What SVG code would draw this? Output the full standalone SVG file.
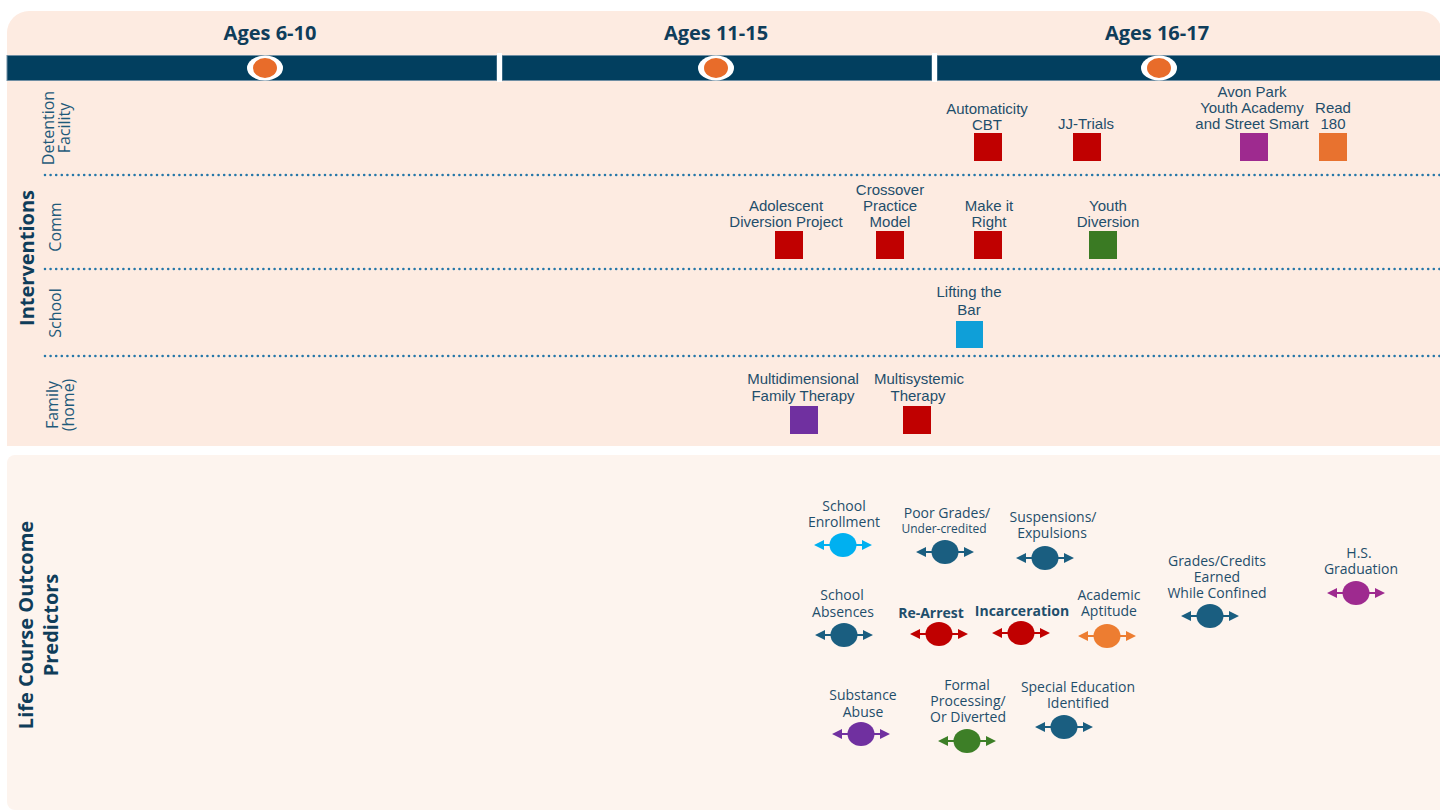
<svg xmlns="http://www.w3.org/2000/svg" width="1440" height="811" viewBox="0 0 1440 811">
  <style>
    .hdr { font-family: "Open Sans", "Liberation Sans", sans-serif; font-weight: 700; font-size: 20px; fill: #0f3d5a; text-anchor: middle; }
    .side { font-family: "Open Sans", "Liberation Sans", sans-serif; font-size: 16px; fill: #1f5a7a; text-anchor: middle; }
    .title { font-family: "Open Sans", "Liberation Sans", sans-serif; font-weight: 700; font-size: 20px; fill: #0f3d5a; text-anchor: middle; }
    .lbl { font-family: "Liberation Sans", Arial, sans-serif; font-size: 15px; fill: #1f4e6b; text-anchor: middle; }
    .pl { font-family: "Open Sans", "Liberation Sans", sans-serif; font-size: 14px; fill: #1f4e6b; text-anchor: middle; }
    .pl-sm { font-size: 12px; }
    .pl-b { font-weight: 700; }
    .sep { stroke: #2577a8; stroke-width: 2.6; stroke-linecap: round; stroke-dasharray: 0 5.6; fill: none; }
    .bar { fill: #023f5f; stroke: #6f8ea3; stroke-width: 1; }
  </style>
  <defs>
    <!-- double-headed arrow with a disc in the middle; colour comes from `color` -->
    <g id="predGlyph">
      <path d="M-20,0H20" stroke="currentColor" stroke-width="2"/>
      <path d="M-29,0L-19,-5L-19,5Z M29,0L19,-5L19,5Z" fill="currentColor"/>
      <ellipse rx="13.5" ry="12" fill="currentColor"/>
    </g>
  </defs>

  <!-- background panels -->
  <rect width="1440" height="811" fill="#ffffff"/>
  <path d="M7,446 V33 A22,22 0 0 1 29,11 H1420 A22,22 0 0 1 1442,33 V446 Z" fill="#fdebe1"/>
  <rect x="7" y="455" width="1445" height="355" rx="8" fill="#fdf4ee"/>

  <!-- timeline -->
  <g id="timeline">
    <rect class="bar" x="7" y="55.5" width="490" height="25"/>
    <rect class="bar" x="502" y="55.5" width="430" height="25"/>
    <rect class="bar" x="937" y="55.5" width="505" height="25"/>
    <rect x="497" y="53" width="5" height="29" fill="#ffffff"/>
    <rect x="932" y="53" width="5" height="29" fill="#ffffff"/>
    <ellipse cx="265" cy="68" rx="18" ry="12.5" fill="#ffffff"/>
    <ellipse cx="265" cy="68" rx="12" ry="10" fill="#e86c2a"/>
    <ellipse cx="716" cy="68" rx="18" ry="12.5" fill="#ffffff"/>
    <ellipse cx="716" cy="68" rx="12" ry="10" fill="#e86c2a"/>
    <ellipse cx="1159" cy="68" rx="18" ry="12.5" fill="#ffffff"/>
    <ellipse cx="1159" cy="68" rx="12" ry="10" fill="#e86c2a"/>
    <text class="hdr" x="270" y="40">Ages 6-10</text>
    <text class="hdr" x="716" y="40">Ages 11-15</text>
    <text class="hdr" x="1157" y="40">Ages 16-17</text>
  </g>

  <!-- row separators -->
  <g id="separators">
    <path class="sep" d="M45,175H1440"/>
    <path class="sep" d="M45,269H1440"/>
    <path class="sep" d="M45,356H1440"/>
  </g>

  <!-- row headings -->
  <g id="row-labels">
    <text class="title" transform="translate(34,258) rotate(-90)">Interventions</text>
    <text class="side" transform="translate(54,128) rotate(-90)">Detention</text>
    <text class="side" transform="translate(70,128) rotate(-90)">Facility</text>
    <text class="side" transform="translate(61,227) rotate(-90)">Comm</text>
    <text class="side" transform="translate(61,313) rotate(-90)">School</text>
    <text class="side" transform="translate(58,405) rotate(-90)">Family</text>
    <text class="side" transform="translate(74,405) rotate(-90)">(home)</text>
    <text class="title" transform="translate(33,625) rotate(-90)">Life Course Outcome</text>
    <text class="title" transform="translate(58,625) rotate(-90)">Predictors</text>
  </g>

  <!-- interventions: detention facility -->
  <g id="automaticity-cbt">
    <text class="lbl" x="987" y="114">Automaticity</text>
    <text class="lbl" x="987" y="130">CBT</text>
    <rect x="974" y="133" width="28" height="28" fill="#c00000"/>
  </g>
  <g id="jj-trials">
    <text class="lbl" x="1086" y="129">JJ-Trials</text>
    <rect x="1073" y="133" width="28" height="28" fill="#c00000"/>
  </g>
  <g id="avon-park">
    <text class="lbl" x="1252" y="97">Avon Park</text>
    <text class="lbl" x="1252" y="113">Youth Academy</text>
    <text class="lbl" x="1252" y="129">and Street Smart</text>
    <rect x="1240" y="133" width="28" height="28" fill="#9e2a8f"/>
  </g>
  <g id="read-180">
    <text class="lbl" x="1333" y="113">Read</text>
    <text class="lbl" x="1333" y="129">180</text>
    <rect x="1319" y="133" width="28" height="28" fill="#e8722f"/>
  </g>

  <!-- interventions: community -->
  <g id="adolescent-diversion">
    <text class="lbl" x="786" y="211">Adolescent</text>
    <text class="lbl" x="786" y="227">Diversion Project</text>
    <rect x="775" y="231" width="28" height="28" fill="#c00000"/>
  </g>
  <g id="crossover-practice">
    <text class="lbl" x="890" y="195">Crossover</text>
    <text class="lbl" x="890" y="211">Practice</text>
    <text class="lbl" x="890" y="227">Model</text>
    <rect x="876" y="231" width="28" height="28" fill="#c00000"/>
  </g>
  <g id="make-it-right">
    <text class="lbl" x="989" y="211">Make it</text>
    <text class="lbl" x="989" y="227">Right</text>
    <rect x="974" y="231" width="28" height="28" fill="#c00000"/>
  </g>
  <g id="youth-diversion">
    <text class="lbl" x="1108" y="211">Youth</text>
    <text class="lbl" x="1108" y="227">Diversion</text>
    <rect x="1089" y="231" width="28" height="28" fill="#3a7a23"/>
  </g>

  <!-- interventions: school -->
  <g id="lifting-the-bar">
    <text class="lbl" x="969" y="297">Lifting the</text>
    <text class="lbl" x="969" y="315">Bar</text>
    <rect x="956" y="321" width="27" height="27" fill="#0f9fd8"/>
  </g>

  <!-- interventions: family -->
  <g id="multidimensional-family">
    <text class="lbl" x="803" y="384">Multidimensional</text>
    <text class="lbl" x="803" y="401">Family Therapy</text>
    <rect x="790" y="406" width="28" height="28" fill="#7030a0"/>
  </g>
  <g id="multisystemic">
    <text class="lbl" x="919" y="384">Multisystemic</text>
    <text class="lbl" x="918" y="401">Therapy</text>
    <rect x="903" y="406" width="28" height="28" fill="#c00000"/>
  </g>

  <!-- life course outcome predictors -->
  <g id="connectors">
    <use href="#predGlyph" x="843" y="545" style="color:#00b0f0"/>
    <use href="#predGlyph" x="945" y="552" style="color:#1a5e80"/>
    <use href="#predGlyph" x="1045" y="558" style="color:#1a5e80"/>
    <use href="#predGlyph" x="844" y="635" style="color:#1a5e80"/>
    <use href="#predGlyph" x="939" y="634" style="color:#c00000"/>
    <use href="#predGlyph" x="1021" y="633" style="color:#c00000"/>
    <use href="#predGlyph" x="1107" y="636" style="color:#ed7d31"/>
    <use href="#predGlyph" x="1210" y="616" style="color:#1a5e80"/>
    <use href="#predGlyph" x="1356" y="593" style="color:#9e2a8f"/>
    <use href="#predGlyph" x="861" y="734" style="color:#7030a0"/>
    <use href="#predGlyph" x="967" y="741" style="color:#3d7f27"/>
    <use href="#predGlyph" x="1064" y="727" style="color:#1a5e80"/>
  </g>

  <g id="school-enrollment">
    <text class="pl" x="844" y="511">School</text>
    <text class="pl" x="844" y="527">Enrollment</text>
  </g>
  <g id="poor-grades">
    <text class="pl" x="947" y="518">Poor Grades/</text>
    <text class="pl pl-sm" x="944" y="533">Under-credited</text>
  </g>
  <g id="suspensions">
    <text class="pl" x="1053" y="522">Suspensions/</text>
    <text class="pl" x="1052" y="538">Expulsions</text>
  </g>
  <g id="school-absences">
    <text class="pl" x="842" y="600">School</text>
    <text class="pl" x="843" y="617">Absences</text>
  </g>
  <g id="re-arrest">
    <text class="pl pl-b" x="931" y="618">Re-Arrest</text>
  </g>
  <g id="incarceration">
    <text class="pl pl-b" x="1022" y="616">Incarceration</text>
  </g>
  <g id="academic-aptitude">
    <text class="pl" x="1109" y="600">Academic</text>
    <text class="pl" x="1109" y="616">Aptitude</text>
  </g>
  <g id="grades-credits">
    <text class="pl" x="1217" y="566">Grades/Credits</text>
    <text class="pl" x="1217" y="582">Earned</text>
    <text class="pl" x="1217" y="598">While Confined</text>
  </g>
  <g id="hs-graduation">
    <text class="pl" x="1359" y="558">H.S.</text>
    <text class="pl" x="1361" y="574">Graduation</text>
  </g>
  <g id="substance-abuse">
    <text class="pl" x="863" y="700">Substance</text>
    <text class="pl" x="863" y="717">Abuse</text>
  </g>
  <g id="formal-processing">
    <text class="pl" x="967" y="690">Formal</text>
    <text class="pl" x="968" y="706">Processing/</text>
    <text class="pl" x="968" y="722">Or Diverted</text>
  </g>
  <g id="special-education">
    <text class="pl" x="1078" y="692">Special Education</text>
    <text class="pl" x="1078" y="708">Identified</text>
  </g>
</svg>
